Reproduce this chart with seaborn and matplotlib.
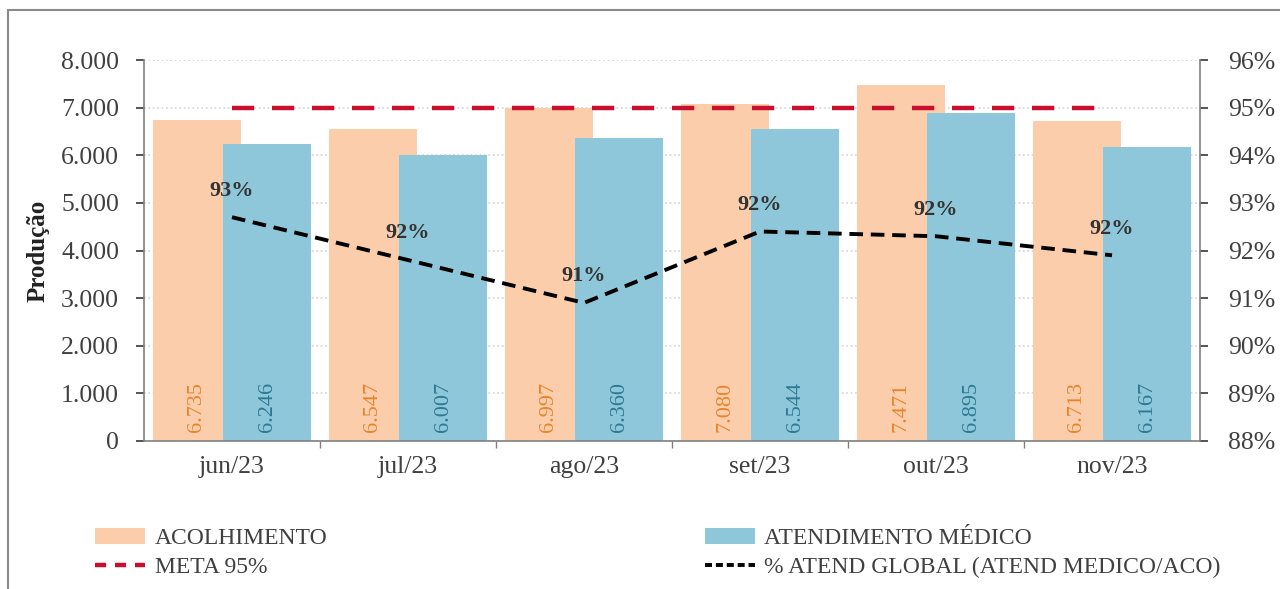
import numpy as np
import pandas as pd
import matplotlib
matplotlib.use("Agg")
import matplotlib.pyplot as plt
from matplotlib.patches import Patch, Rectangle
from matplotlib.lines import Line2D
from matplotlib.ticker import FuncFormatter, FixedLocator
import seaborn as sns

# data
months = ["jun/23", "jul/23", "ago/23", "set/23", "out/23", "nov/23"]
acolhimento = [6735, 6547, 6997, 7080, 7471, 6713]
atend_medico = [6246, 6007, 6360, 6544, 6895, 6167]
pct_global = [92.7, 91.8, 90.9, 92.4, 92.3, 91.9]
meta = [95, 95, 95, 95, 95, 95]

series_names = ["ACOLHIMENTO", "ATENDIMENTO MÉDICO"]
bar_colors = ["#FBCDAA", "#8EC7D9"]
label_colors = ["#E8842C", "#2E7894"]
grey = "#404040"

df = pd.DataFrame({
    "mes": months * 2,
    "valor": acolhimento + atend_medico,
    "serie": [series_names[0]] * 6 + [series_names[1]] * 6,
})

sns.set_theme(style="white")
plt.rcParams["font.family"] = ["Liberation Serif", "DejaVu Serif"]

fig = plt.figure(figsize=(12.8, 5.89), dpi=100)
ax = fig.add_axes([0.1125, 0.2513, 0.825, 0.6467])

sns.barplot(data=df, x="mes", y="valor", hue="serie", order=months,
            hue_order=series_names, palette=bar_colors, saturation=1,
            width=0.8, legend=False, ax=ax, zorder=2, linewidth=0, edgecolor="none")

# widen bars so they overlap a bit, like the original
for cont, lc, vals in zip(ax.containers, label_colors, [acolhimento, atend_medico]):
    for p, v in zip(cont, vals):
        c = p.get_x() + p.get_width() / 2
        p.set_width(0.5)
        p.set_x(c - 0.25)
        ax.text(c, 720, f"{v:,}".replace(",", "."), rotation=90, ha="center",
                va="center", color=lc, fontsize=16, zorder=5)

ax.set_ylim(0, 8000)
ax.set_xlim(-0.5, 5.5)
ax.yaxis.set_major_locator(FixedLocator(range(0, 8001, 1000)))
ax.yaxis.set_major_formatter(FuncFormatter(lambda v, p: f"{int(v):,}".replace(",", ".")))
ax.grid(axis="y", color="#d4d4d4", linestyle=":", linewidth=1.2, zorder=0)
ax.set_axisbelow(True)
ax.set_xlabel("")
ax.set_ylabel("Produção", fontsize=18, fontweight="bold", color="#222222", labelpad=8)
ax.tick_params(axis="y", labelsize=18.5, colors=grey, length=6, direction="out",
               left=True, pad=12)
ax.tick_params(axis="x", which="major", labelsize=18.5, colors=grey, length=0, pad=11)
ax.set_xticks(np.arange(0.5, 5.5, 1), minor=True)
ax.tick_params(axis="x", which="minor", length=5, color="#808080", bottom=True)
for s in ["top", "right"]:
    ax.spines[s].set_visible(False)
for s in ["left", "bottom"]:
    ax.spines[s].set_color("#808080")
    ax.spines[s].set_linewidth(1.2)

ax2 = ax.twinx()
sns.pointplot(x=months, y=meta, order=months, color="#C8102E", markers="",
              linestyles="--", ax=ax2, errorbar=None)
sns.pointplot(x=months, y=pct_global, order=months, color="black", markers="",
              linestyles="--", ax=ax2, errorbar=None)
l_meta, l_pct = ax2.lines[-2], ax2.lines[-1]
l_meta.set_linewidth(3.2)
l_meta.set_dashes((5, 4))
l_pct.set_linewidth(2.8)
l_pct.set_dashes((3.5, 2))

for i, v in enumerate(pct_global):
    ax2.annotate(f"{v:.0f}%", (i, v), xytext=(0, 12), textcoords="offset points",
                 ha="center", va="bottom", fontsize=16, fontweight="bold", color="#333333")

ax2.set_xlim(-0.5, 5.5)
ax2.set_ylim(88, 96)
ax2.yaxis.set_major_locator(FixedLocator(range(88, 97)))
ax2.yaxis.set_major_formatter(FuncFormatter(lambda v, p: f"{v:.0f}%"))
ax2.tick_params(axis="y", labelsize=18.5, colors=grey, length=6, direction="out",
                right=True, pad=14)
ax2.set_ylabel("")
ax2.set_xlabel("")
for s in ["top", "left", "bottom"]:
    ax2.spines[s].set_visible(False)
ax2.spines["right"].set_color("#808080")
ax2.spines["right"].set_linewidth(1.2)
ax2.grid(False)

handles = [
    Patch(facecolor=bar_colors[0], edgecolor="none"),
    Line2D([0], [0], color="#C8102E", lw=3.2, dashes=(2.5, 2)),
    Patch(facecolor=bar_colors[1], edgecolor="none"),
    Line2D([0], [0], color="black", lw=2.8, dashes=(1.8, 1)),
]
labels = ["ACOLHIMENTO", "META 95%", "ATENDIMENTO MÉDICO", "% ATEND GLOBAL (ATEND MEDICO/ACO)"]
fig.legend(handles, labels, ncol=2, loc="upper left", bbox_to_anchor=(0.058, 0.14),
           frameon=False, fontsize=17, handlelength=2.1, handleheight=0.7,
           handletextpad=0.4, columnspacing=16, labelspacing=0.3, labelcolor=grey)

# light frame around the chart area like the screenshot
fig.add_artist(Rectangle((8 / 1280, -0.05), 1.1, 1.05 - 10 / 589, transform=fig.transFigure,
                         fill=False, edgecolor="#8a8a8a", lw=1.5, clip_on=False))

fig.savefig("out.png", dpi=100)
